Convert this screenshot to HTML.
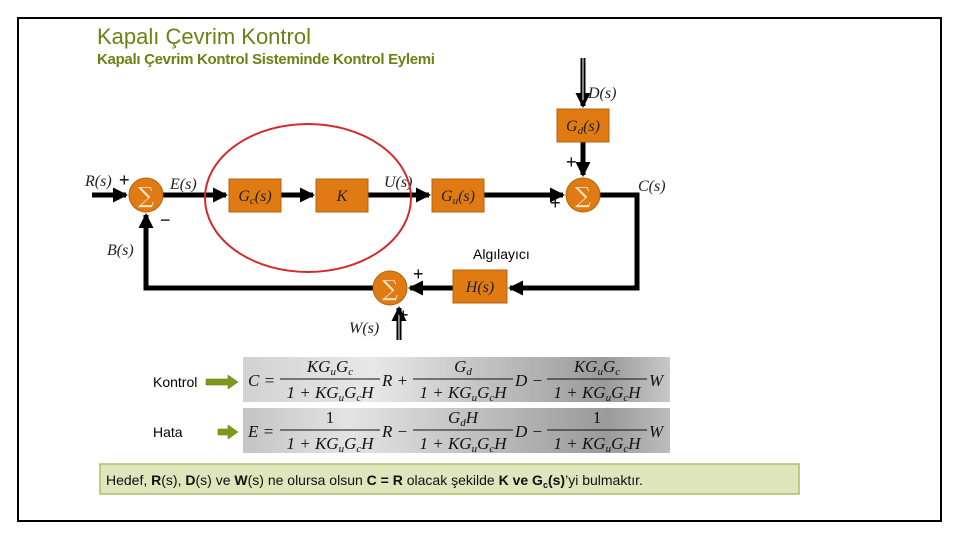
<!DOCTYPE html>
<html><head><meta charset="utf-8"><style>
body{margin:0;background:#fff;width:960px;height:540px;overflow:hidden;font-family:"Liberation Sans",sans-serif}
.m{font-family:"Liberation Serif",serif;font-style:italic}
</style></head><body>
<svg width="960" height="540" xmlns="http://www.w3.org/2000/svg">
<defs>
<linearGradient id="g1" x1="0" x2="1"><stop offset="0" stop-color="#d2d2d2"/><stop offset="0.3" stop-color="#e8e8e8"/><stop offset="0.85" stop-color="#9a9a9a"/><stop offset="1" stop-color="#c8c8c8"/></linearGradient>
<linearGradient id="g2" x1="0" x2="1"><stop offset="0" stop-color="#c4c4c4"/><stop offset="0.25" stop-color="#e4e4e4"/><stop offset="0.85" stop-color="#9a9a9a"/><stop offset="1" stop-color="#bdbdbd"/></linearGradient>
<marker id="a" markerWidth="3" markerHeight="3" refX="2.6" refY="1.5" orient="auto" markerUnits="strokeWidth"><path d="M0,0 L3,1.5 L0,3z" fill="#000"/></marker>
</defs>
<rect x="18" y="18" width="923" height="503" fill="none" stroke="#000" stroke-width="2"/>
<text x="97" y="44" font-size="22" fill="#6f7f14">Kapalı Çevrim Kontrol</text>
<text x="97" y="64" font-size="15" fill="#6f7f14" font-weight="bold" style="letter-spacing:-0.3px">Kapalı Çevrim Kontrol Sisteminde Kontrol Eylemi</text>
<g stroke="#000" stroke-width="5" fill="none">
<line x1="92" y1="195" x2="126" y2="195" marker-end="url(#a)"/>
<line x1="163" y1="195" x2="226" y2="195" marker-end="url(#a)"/>
<line x1="281" y1="195" x2="313" y2="195" marker-end="url(#a)"/>
<line x1="368" y1="195" x2="429" y2="195" marker-end="url(#a)"/>
<line x1="484" y1="195" x2="563" y2="195" marker-end="url(#a)"/>
<polyline points="600,195 637,195 637,288 510,288" marker-end="url(#a)"/>
<line x1="453" y1="288" x2="410" y2="288" marker-end="url(#a)"/>
<polyline points="373,288 146,288 146,215" marker-end="url(#a)"/>
<line x1="583" y1="142" x2="583" y2="175" marker-end="url(#a)"/>
<line x1="583" y1="58" x2="583" y2="106" marker-end="url(#a)"/>
<line x1="399" y1="340" x2="399" y2="308" marker-end="url(#a)"/>
</g>
<line x1="583" y1="58" x2="583" y2="100" stroke="#fff" stroke-width="1"/>
<line x1="399" y1="340" x2="399" y2="314" stroke="#fff" stroke-width="1"/>
<g fill="#e07b14" stroke="#b86210" stroke-width="1">
<rect x="229" y="179" width="52" height="33"/>
<rect x="316" y="179" width="52" height="33"/>
<rect x="432" y="179" width="52" height="33"/>
<rect x="557" y="109" width="52" height="33"/>
<rect x="453" y="270" width="54" height="33"/>
<circle cx="146" cy="195" r="17"/>
<circle cx="583" cy="195" r="17"/>
<circle cx="390" cy="288" r="17"/>
</g>
<g fill="#fde6c8" font-size="22" font-family="DejaVu Serif,serif" text-anchor="middle">
<text x="146" y="203">∑</text><text x="583" y="203">∑</text><text x="390" y="296">∑</text>
</g>
<g class="m" font-size="16" fill="#222" text-anchor="middle">
<text x="255" y="201">G<tspan font-size="11" dy="3">c</tspan><tspan dy="-3">(s)</tspan></text>
<text x="342" y="201">K</text>
<text x="458" y="201">G<tspan font-size="11" dy="3">u</tspan><tspan dy="-3">(s)</tspan></text>
<text x="583" y="131">G<tspan font-size="11" dy="3">d</tspan><tspan dy="-3">(s)</tspan></text>
<text x="480" y="292">H(s)</text>
</g>
<g class="m" font-size="16" fill="#222">
<text x="85" y="186">R(s)</text><text x="170" y="189">E(s)</text><text x="384" y="187">U(s)</text>
<text x="638" y="191">C(s)</text><text x="588" y="98">D(s)</text><text x="107" y="255">B(s)</text><text x="349" y="333">W(s)</text>
</g>
<g font-size="18" fill="#000">
<text x="119" y="186">+</text><text x="566" y="168">+</text><text x="550" y="209">+</text><text x="413" y="280">+</text><text x="398" y="321">+</text><text x="160" y="226">−</text>
</g>
<text x="473" y="259" font-size="14">Algılayıcı</text>
<ellipse cx="308" cy="198" rx="103" ry="74" fill="none" stroke="#d42a2a" stroke-width="2"/>
<rect x="243" y="357" width="427" height="45" fill="url(#g1)"/>
<rect x="243" y="408" width="427" height="45" fill="url(#g2)"/>
<text x="153" y="387" font-size="14">Kontrol</text>
<text x="153" y="437" font-size="14">Hata</text>
<g fill="#7d9a1c" stroke="#5a7010" stroke-width="0.5">
<path d="M206,379 h22 v-4 l10,7 l-10,7 v-4 h-22z"/>
<path d="M218,429 h10 v-4 l10,7 l-10,7 v-4 h-10z"/>
</g>
<g class="m" font-size="17" fill="#111">
<text x="248" y="386">C =</text>
<text x="330" y="372" text-anchor="middle">KG<tspan font-size="11" dy="3">u</tspan><tspan dy="-3">G</tspan><tspan font-size="11" dy="3">c</tspan></text>
<line x1="280" y1="379" x2="380" y2="379" stroke="#111" stroke-width="1"/>
<text x="330" y="398" text-anchor="middle">1 + KG<tspan font-size="11" dy="3">u</tspan><tspan dy="-3">G</tspan><tspan font-size="11" dy="3">c</tspan><tspan dy="-3">H</tspan></text>
<text x="382" y="386">R +</text>
<text x="463" y="372" text-anchor="middle">G<tspan font-size="11" dy="3">d</tspan></text>
<line x1="413" y1="379" x2="513" y2="379" stroke="#111" stroke-width="1"/>
<text x="463" y="398" text-anchor="middle">1 + KG<tspan font-size="11" dy="3">u</tspan><tspan dy="-3">G</tspan><tspan font-size="11" dy="3">c</tspan><tspan dy="-3">H</tspan></text>
<text x="515" y="386">D −</text>
<text x="597" y="372" text-anchor="middle">KG<tspan font-size="11" dy="3">u</tspan><tspan dy="-3">G</tspan><tspan font-size="11" dy="3">c</tspan></text>
<line x1="547" y1="379" x2="647" y2="379" stroke="#111" stroke-width="1"/>
<text x="597" y="398" text-anchor="middle">1 + KG<tspan font-size="11" dy="3">u</tspan><tspan dy="-3">G</tspan><tspan font-size="11" dy="3">c</tspan><tspan dy="-3">H</tspan></text>
<text x="649" y="386">W</text>

<text x="248" y="437">E =</text>
<text x="330" y="423" text-anchor="middle" font-style="normal">1</text>
<line x1="280" y1="430" x2="380" y2="430" stroke="#111" stroke-width="1"/>
<text x="330" y="449" text-anchor="middle">1 + KG<tspan font-size="11" dy="3">u</tspan><tspan dy="-3">G</tspan><tspan font-size="11" dy="3">c</tspan><tspan dy="-3">H</tspan></text>
<text x="382" y="437">R −</text>
<text x="463" y="423" text-anchor="middle">G<tspan font-size="11" dy="3">d</tspan><tspan dy="-3">H</tspan></text>
<line x1="413" y1="430" x2="513" y2="430" stroke="#111" stroke-width="1"/>
<text x="463" y="449" text-anchor="middle">1 + KG<tspan font-size="11" dy="3">u</tspan><tspan dy="-3">G</tspan><tspan font-size="11" dy="3">c</tspan><tspan dy="-3">H</tspan></text>
<text x="515" y="437">D −</text>
<text x="597" y="423" text-anchor="middle" font-style="normal">1</text>
<line x1="547" y1="430" x2="647" y2="430" stroke="#111" stroke-width="1"/>
<text x="597" y="449" text-anchor="middle">1 + KG<tspan font-size="11" dy="3">u</tspan><tspan dy="-3">G</tspan><tspan font-size="11" dy="3">c</tspan><tspan dy="-3">H</tspan></text>
<text x="649" y="437">W</text>
</g>
<rect x="100" y="464" width="699" height="30" fill="#dfe6bb" stroke="#b0bd6a" stroke-width="1.5"/>
<text x="106" y="485" font-size="14" fill="#111">Hedef, <tspan font-weight="bold">R</tspan>(s), <tspan font-weight="bold">D</tspan>(s) ve <tspan font-weight="bold">W</tspan>(s) ne olursa olsun <tspan font-weight="bold">C = R</tspan> olacak şekilde <tspan font-weight="bold">K ve G</tspan><tspan font-size="9" dy="3" font-weight="bold">c</tspan><tspan dy="-3" font-weight="bold">(s)</tspan>’yi bulmaktır.</text>
</svg>
</body></html>
